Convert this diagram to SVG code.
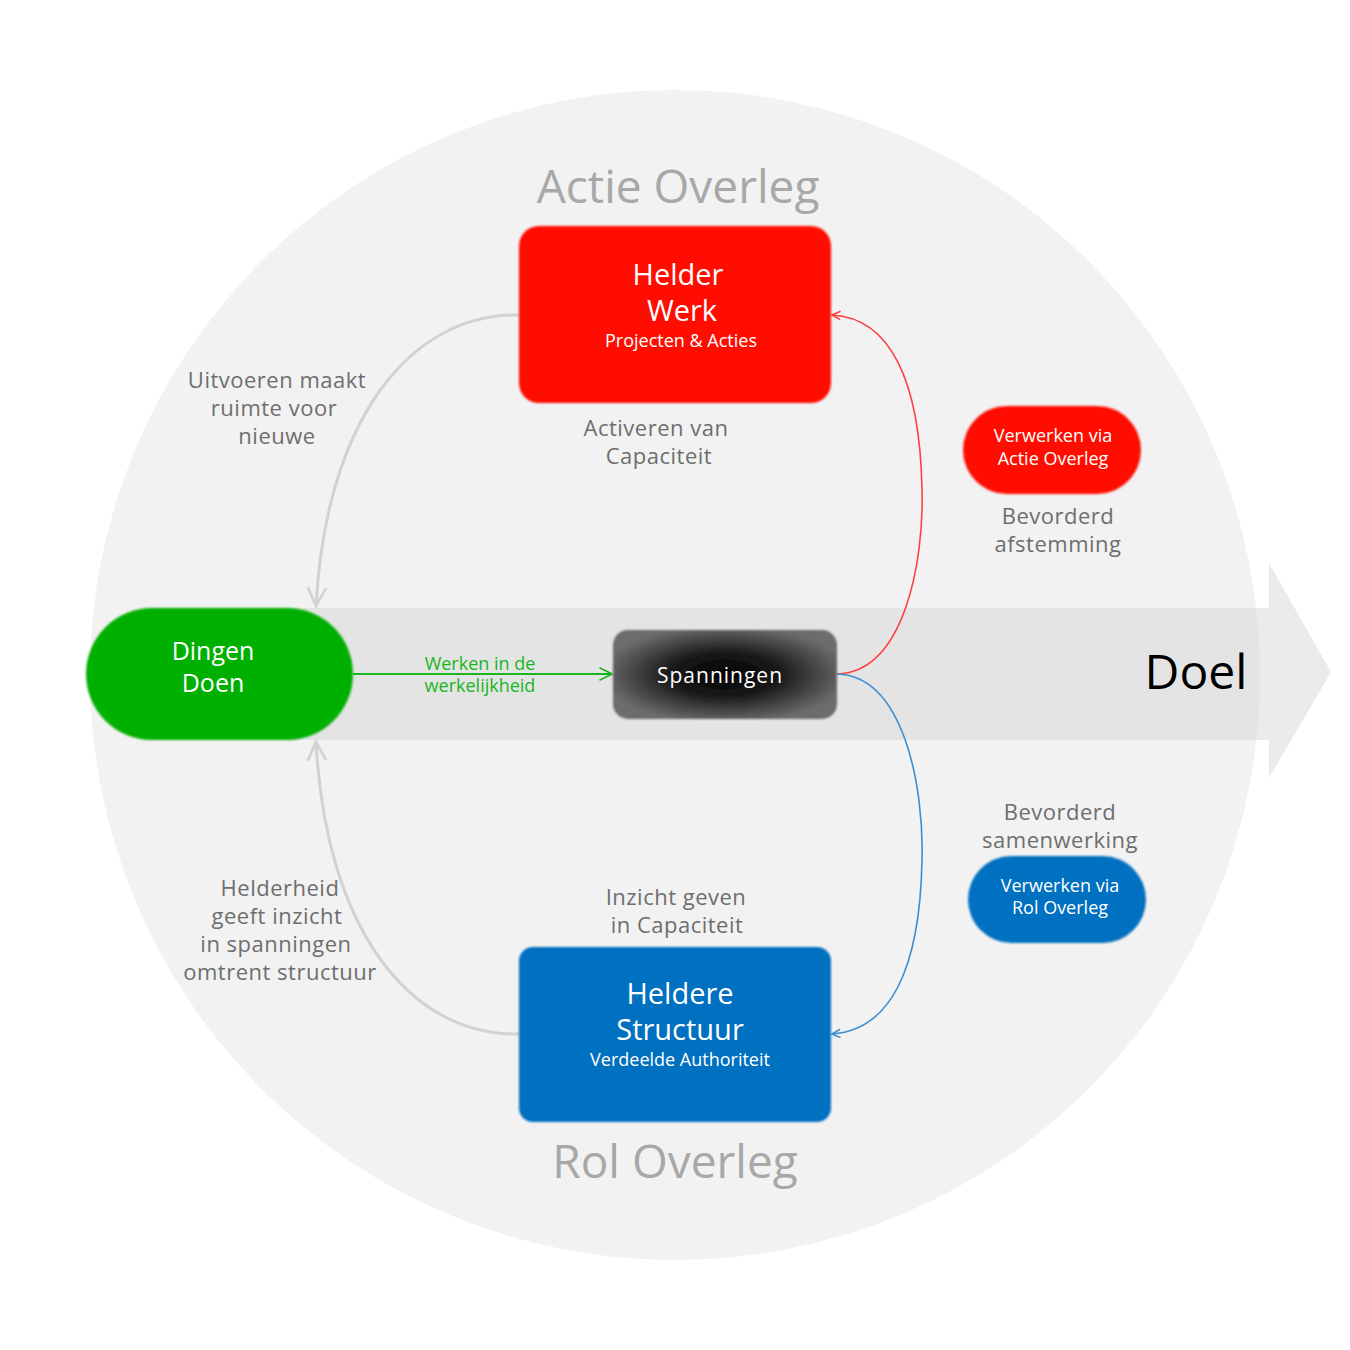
<svg xmlns="http://www.w3.org/2000/svg" width="1350" height="1350" viewBox="0 0 1350 1350">
<defs>
<style>
text{font-family:"Open Sans","Noto Sans","DejaVu Sans",sans-serif;text-anchor:middle}
.lbl{fill:#6e6e6e;font-size:22px;letter-spacing:0.5px}
.big{fill:#a8a8a8;font-size:46px}
.wt{fill:#fff}
.t1{font-size:29px}
.t2{font-size:18px}
.sm{font-size:18px}
.gray{fill:none;stroke:#d2d2d2;stroke-width:3}
</style>
<filter id="soft" x="-5%" y="-5%" width="110%" height="110%"><feGaussianBlur stdDeviation="1.3"/></filter>
<radialGradient id="sp" cx="50%" cy="50%" r="55%">
<stop offset="0" stop-color="#000"/>
<stop offset="0.45" stop-color="#1a1a1a"/>
<stop offset="1" stop-color="#6c6c6c"/>
</radialGradient>
<clipPath id="cc"><circle cx="675" cy="675" r="585"/></clipPath>
<marker id="ag" viewBox="0 0 12 12" refX="11" refY="6" markerWidth="22" markerHeight="22" orient="auto" markerUnits="userSpaceOnUse">
<path d="M1,1 L11,6 L1,11" fill="none" stroke="#d2d2d2" stroke-width="1.5"/>
</marker>
<marker id="ar" viewBox="0 0 12 12" refX="11" refY="6" markerWidth="10" markerHeight="10" orient="auto" markerUnits="userSpaceOnUse">
<path d="M1,1 L11,6 L1,11" fill="none" stroke="#ff4040" stroke-width="1.8"/>
</marker>
<marker id="ab" viewBox="0 0 12 12" refX="11" refY="6" markerWidth="10" markerHeight="10" orient="auto" markerUnits="userSpaceOnUse">
<path d="M1,1 L11,6 L1,11" fill="none" stroke="#3a8ed4" stroke-width="1.8"/>
</marker>
<marker id="agr" viewBox="0 0 12 12" refX="11" refY="6" markerWidth="15" markerHeight="15" orient="auto" markerUnits="userSpaceOnUse">
<path d="M1,1 L11,6 L1,11" fill="none" stroke="#19b61e" stroke-width="1.3"/>
</marker>
</defs>
<rect width="1350" height="1350" fill="#fff"/>
<g id="background">
<circle cx="675" cy="675" r="585" fill="#f2f2f2"/>
<path d="M150,608 H1269 V563 L1331,672 L1269,778 V740 H150 Z" fill="#ebebeb"/>
<path d="M150,608 H1269 V740 H150 Z" fill="#e4e4e4" clip-path="url(#cc)"/>
</g>
<g id="titles">
<text class="big" x="678" y="203">Actie Overleg</text>
<text class="big" x="675" y="1178">Rol Overleg</text>
<text x="1196" y="689" font-size="48" fill="#000">Doel</text>
</g>
<g id="connectors">
<path class="gray" d="M519,315 C410,313 326,420 316,606" marker-end="url(#ag)"/>
<path class="gray" d="M519,1034 C410,1036 326,930 316,742" marker-end="url(#ag)"/>
<path d="M837,674 C905,672 924,560 922,490 C920,380 890,318 832,315" fill="none" stroke="#ff4040" stroke-width="1.6" marker-end="url(#ar)"/>
<path d="M837,674 C905,676 924,790 922,860 C920,970 890,1030 832,1034" fill="none" stroke="#3a8ed4" stroke-width="1.6" marker-end="url(#ab)"/>
<path d="M353,674 H612" fill="none" stroke="#19b61e" stroke-width="2" marker-end="url(#agr)"/>
<text x="480" y="670" font-size="18" fill="#19b61e">Werken in de</text>
<text x="480" y="692" font-size="18" fill="#19b61e">werkelijkheid</text>
</g>
<g id="helder-werk">
<rect x="519" y="226" width="312" height="177" rx="20" fill="#ff1100" filter="url(#soft)"/>
<text class="wt t1" x="678" y="285">Helder</text>
<text class="wt t1" x="682" y="321">Werk</text>
<text class="wt t2" x="681" y="347">Projecten &amp; Acties</text>
</g>
<g id="heldere-structuur">
<rect x="519" y="947" width="312" height="175" rx="14" fill="#0070c0" filter="url(#soft)"/>
<text class="wt t1" x="680" y="1004">Heldere</text>
<text class="wt t1" x="680" y="1040">Structuur</text>
<text class="wt t2" x="680" y="1066">Verdeelde Authoriteit</text>
</g>
<g id="dingen-doen">
<rect x="86" y="608" width="267" height="132" rx="66" fill="#00b000" filter="url(#soft)"/>
<text class="wt" x="213" y="660" font-size="25">Dingen</text>
<text class="wt" x="213" y="692" font-size="25">Doen</text>
</g>
<g id="spanningen">
<rect x="613" y="630" width="224" height="89" rx="15" fill="url(#sp)" filter="url(#soft)"/>
<text class="wt" x="720" y="683" font-size="21" letter-spacing="1">Spanningen</text>
</g>
<g id="verwerken-actie">
<rect x="963" y="406" width="178" height="88" rx="44" fill="#ff1100" filter="url(#soft)"/>
<text class="wt sm" x="1053" y="442">Verwerken via</text>
<text class="wt sm" x="1053" y="465">Actie Overleg</text>
</g>
<g id="verwerken-rol">
<rect x="968" y="856" width="178" height="87" rx="43.5" fill="#0070c0" filter="url(#soft)"/>
<text class="wt sm" x="1060" y="892">Verwerken via</text>
<text class="wt sm" x="1060" y="914">Rol Overleg</text>
</g>
<g id="labels">
<text class="lbl" x="277" y="388">Uitvoeren maakt</text>
<text class="lbl" x="274" y="416">ruimte voor</text>
<text class="lbl" x="277" y="444">nieuwe</text>
<text class="lbl" x="656" y="436">Activeren van</text>
<text class="lbl" x="659" y="464">Capaciteit</text>
<text class="lbl" x="1058" y="524">Bevorderd</text>
<text class="lbl" x="1058" y="552">afstemming</text>
<text class="lbl" x="1060" y="820">Bevorderd</text>
<text class="lbl" x="1060" y="848">samenwerking</text>
<text class="lbl" x="676" y="905">Inzicht geven</text>
<text class="lbl" x="677" y="933">in Capaciteit</text>
<text class="lbl" x="280" y="896">Helderheid</text>
<text class="lbl" x="277" y="924">geeft inzicht</text>
<text class="lbl" x="276" y="952">in spanningen</text>
<text class="lbl" x="280" y="980">omtrent structuur</text>
</g>
</svg>
